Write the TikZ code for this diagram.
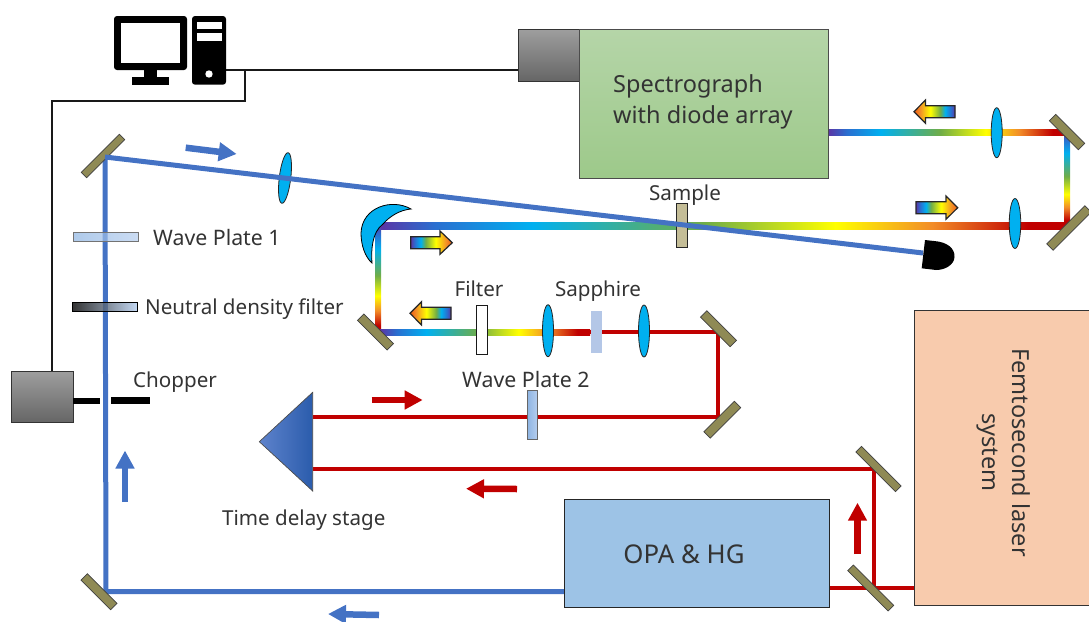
\documentclass[tikz,border=0pt]{standalone}
\usepackage{fontspec}
\setmainfont{Noto Sans}
\usetikzlibrary{arrows.meta,shapes.geometric}
\definecolor{rbA}{HTML}{5B35A5}
\definecolor{rbB}{HTML}{2A6FD0}
\definecolor{rbC}{HTML}{00B0F0}
\definecolor{rbD}{HTML}{70AD47}
\definecolor{rbE}{HTML}{FFFF00}
\definecolor{rbF}{HTML}{F28C28}
\definecolor{rbG}{HTML}{C00000}
\definecolor{rbH}{HTML}{EE5A10}
\definecolor{beamblue}{HTML}{4472C4}
\definecolor{beamred}{HTML}{C00000}
\definecolor{mirrorc}{HTML}{8F8A55}
\definecolor{lensc}{HTML}{00B0F0}
\definecolor{inkc}{HTML}{333333}
\definecolor{specA}{HTML}{B5D5A8}
\definecolor{specB}{HTML}{9DC98A}
\definecolor{opac}{HTML}{9DC3E6}
\definecolor{laserc}{HTML}{F8CBAD}
\definecolor{samplec}{HTML}{C4BD97}
\definecolor{sapphc}{HTML}{B4C7E7}
\definecolor{plateA}{HTML}{8DB4E2}
\definecolor{plateB}{HTML}{B4CDEE}
\definecolor{prismA}{HTML}{5F83CC}
\definecolor{prismB}{HTML}{2A5CAC}
\pgfdeclarehorizontalshading{rainbow}{100bp}{
 color(0bp)=(rbA); color(25bp)=(rbA); color(29bp)=(rbB); color(36bp)=(rbC);
 color(48.5bp)=(rbD); color(58bp)=(rbE); color(65bp)=(rbF); color(72bp)=(rbG);
 color(75bp)=(rbG); color(100bp)=(rbG)}
\pgfdeclarehorizontalshading{rbtip}{100bp}{
 color(0bp)=(rbA); color(25bp)=(rbA); color(30bp)=(rbB); color(37bp)=(rbC); color(43bp)=(rbD);
 color(55bp)=(rbE); color(68bp)=(rbF); color(75bp)=(rbH); color(100bp)=(rbH)}
\tikzset{
 lbl/.style={font=\fontsize{20.6}{24}\selectfont, text=inkc, inner sep=0pt},
 lblw/.style={font=\fontsize{21.3}{24}\selectfont, text=inkc, inner sep=0pt},
 bigl/.style={font=\fontsize{23.5}{31}\selectfont, text=inkc, inner sep=0pt, align=left},
 mirror/.style={draw=black!75, line width=.7pt, fill=mirrorc, minimum height=9pt, inner sep=0pt, rectangle},
 lens/.style={ellipse, draw=black!85, line width=.8pt, fill=lensc, inner sep=0pt},
 bluebeam/.style={draw=beamblue, line width=5pt},
 redbeam/.style={draw=beamred, line width=4.5pt},
 rbh/.style={shading=rainbow},
 rbv/.style={shading=rainbow, shading angle=-90},
 rbright/.style={draw=black!85, line width=1.2pt, shading=rbtip},
 rbleft/.style={draw=black!85, line width=1.2pt, shading=rbtip, shading angle=180},
 bluearrow/.style={draw=beamblue, line width=6.5pt, -{Triangle[length=18pt,width=18pt]}},
 redarrow/.style={draw=beamred, line width=6.5pt, -{Triangle[length=18pt,width=18pt]}},
 wire/.style={draw=black!90, line width=2pt},
 graybox/.style={draw=black!80, line width=.8pt, top color=black!38, bottom color=black!60, inner sep=0pt},
 plate/.style={draw=black!60, line width=.8pt, inner sep=0pt},
 barc/.style={fill=black, draw=none, inner sep=0pt},
}
\begin{document}
\begin{tikzpicture}[x=1pt,y=-1pt]
\useasboundingbox (0,0) rectangle (1089,621);
% beam corners
\coordinate (bM1) at (105,157);
\coordinate (bDet) at (923,253);
\coordinate (bM10) at (106,591.5);
\coordinate (bOPAw) at (565,591.5);
\coordinate (bSpec) at (828,132.5);
\coordinate (bTR) at (1067,132.5);
\coordinate (bBR) at (1067,226);
\coordinate (bPar) at (380,225.5);
\coordinate (bParv) at (378,225.5);
\coordinate (bLow) at (378,332);
\coordinate (bLowh) at (380,332);
\coordinate (bRedStart) at (590,332);
\coordinate (bM6) at (718,332);
\coordinate (bM7) at (718,417);
\coordinate (bPrU) at (313,417);
\coordinate (bPrL) at (313,469);
\coordinate (bM8) at (874,469);
\coordinate (bM9) at (874,588);
\coordinate (bOPAe) at (830,588);
\coordinate (bLas) at (914,588);
% wires
\coordinate (wA) at (226,70);
\coordinate (wB) at (245,70);
\coordinate (wC) at (245,101);
\coordinate (wD) at (52,101);
\coordinate (wE) at (52,371);
\coordinate (wF) at (519,70);
\draw[wire] (wA) -- (wF);
\draw[wire] (wB) -- (wC) -- (wD) -- (wE);
% rainbow beams
\shade[rbh] ([yshift=3pt]bSpec) rectangle ([yshift=-3pt]bTR);
\shade[rbh] ([yshift=3pt]bPar) rectangle ([yshift=-3pt,xshift=3pt]bBR);
\shade[rbv] ([xshift=-3pt]bTR) rectangle ([xshift=3pt]bBR);
\shade[rbv] ([xshift=-3pt]bParv) rectangle ([xshift=3pt]bLow);
\shade[rbh] ([yshift=3pt]bLowh) rectangle ([yshift=-3pt]bRedStart);
% red beams
\draw[redbeam] (bRedStart) -- (bM6) -- (bM7) -- (bPrU);
\draw[redbeam] (bPrL) -- (bM8) -- (bM9);
\draw[redbeam] (bOPAe) -- (bLas);
% blue beam, lower part
\draw[bluebeam, line join=miter] (bOPAw) -- (bM10) -- (bM1);
% boxes
\node[graybox, minimum width=62pt, minimum height=52pt] (cam) at (549,55) {};
\node[draw=black!70, line width=.8pt, top color=specA, bottom color=specB, minimum width=249pt, minimum height=149pt, inner sep=0pt] (spec) at (703.5,103.5) {};
\node[draw=black!85, line width=1pt, fill=opac, minimum width=265pt, minimum height=108pt, inner sep=0pt] (opa) at (697,553) {};
\node[draw=black!80, line width=1pt, fill=laserc, minimum width=185pt, minimum height=295pt, inner sep=0pt] (laser) at (1006.5,458) {};
\node[graybox, minimum width=62pt, minimum height=51pt] (chop) at (42,396.5) {};
\node[barc, minimum width=27pt, minimum height=6.5pt] (barL) at (86.5,401) {};
\node[barc, minimum width=39.5pt, minimum height=6.5pt] (barR) at (130.5,400.7) {};
% optics on the blue arm
\node[plate, draw=black!55, left color=plateA, right color=plateB, fill opacity=.7, minimum width=65pt, minimum height=9pt] (wp1) at (105.5,237.2) {};
\node[plate, draw=black, left color=black, right color=plateB, fill opacity=.8, minimum width=65pt, minimum height=8.5pt] (nd) at (104.5,307) {};
% mirrors
\node[mirror, minimum height=7.5pt, minimum width=54pt, rotate=45] (m1) at (103,156) {};
\node[mirror, minimum width=41pt, rotate=-45] (m2) at (1067,132) {};
\node[mirror, minimum width=54pt, rotate=45] (m3) at (1069,228) {};
\node[mirror, minimum width=42pt, rotate=-45] (m5) at (375.5,332) {};
\node[mirror, minimum width=42pt, rotate=-45] (m6) at (718.5,328.7) {};
\node[mirror, minimum width=43pt, rotate=45] (m7) at (722.3,419.7) {};
\node[mirror, minimum height=8pt, minimum width=56pt, rotate=-45] (m8) at (878.5,469) {};
\node[mirror, minimum height=8pt, minimum width=57pt, rotate=-45] (m9) at (870.7,588) {};
\node[mirror, minimum width=42pt, rotate=-45] (m10) at (99,591.7) {};
% parabolic mirror
\path[draw=black, line width=.8pt, fill=lensc] (411,209) .. controls (392,198) and (362,207) .. (361,233)
  .. controls (361,245) and (365,257) .. (372,263) .. controls (371,250) and (372,232) .. (383,224)
  .. controls (390,216) and (400,210) .. (411,209) -- cycle;
% lenses
\node[lens, minimum width=11.5pt, minimum height=51pt, rotate=-7] (l1) at (285,178) {};
\node[lens, minimum width=11pt, minimum height=50pt] (l2) at (996.7,132.7) {};
\node[lens, minimum width=11.5pt, minimum height=50pt] (l3) at (1015,223.5) {};
\node[lens, minimum width=11pt, minimum height=52pt] (l4) at (548,330.7) {};
\node[lens, minimum width=11pt, minimum height=52pt] (l5) at (644,331) {};
% plates
\node[fill=sapphc, minimum width=11pt, minimum height=42pt, inner sep=0pt] (sapph) at (596.5,332) {};
\node[draw=black!90, line width=.8pt, fill=white, minimum width=11pt, minimum height=49pt, inner sep=0pt] (filt) at (482.2,330.3) {};
\node[draw=black!85, line width=.8pt, fill=samplec, minimum width=11pt, minimum height=44pt, inner sep=0pt] (samp) at (682.2,225) {};
\node[plate, left color=plateA, right color=plateB, minimum width=10pt, minimum height=49pt] (wp2) at (532,415.3) {};
% blue beam, upper part and detector
\draw[bluebeam] (bM1) -- (bDet);
\path[fill=black] (925,240) -- (934,241) .. controls (948,242) and (955,249) .. (954.5,257)
  .. controls (954,265) and (945,270) .. (936,270) -- (921.7,268.3) -- cycle;
% prism
\path[draw=black!70, line width=.7pt, left color=prismA, right color=prismB] (259.3,441.7) -- (312.7,392.3) -- (312.7,491) -- cycle;
% computer
\path[fill=black, rounded corners=3pt] (114,16) rectangle (187,70);
\path[fill=white] (121,23.3) rectangle (180.3,62.7);
\path[fill=black] (144,70) rectangle (157,77);
\path[fill=black] (132,77) rectangle (169,84.7);
\path[fill=black, rounded corners=3pt] (192,16) rectangle (226,84.7);
\path[fill=white] (197,21.7) rectangle (221.7,29.3);
\path[fill=white] (197,33.3) rectangle (221.7,40.7);
\path[fill=white] (209,74) circle (3.7);
% direction arrows
\coordinate (aA1) at (185.7,147.7); \coordinate (aA2) at (236.7,154);
\coordinate (aB1) at (125,502); \coordinate (aB2) at (125,450.5);
\coordinate (aC1) at (379,615); \coordinate (aC2) at (328,614);
\coordinate (aD1) at (371.7,400); \coordinate (aD2) at (422.7,400);
\coordinate (aE1) at (517,489); \coordinate (aE2) at (466,488.7);
\coordinate (aF1) at (857.5,554); \coordinate (aF2) at (857.5,502.7);
\draw[bluearrow] (aA1) -- (aA2);
\draw[bluearrow] (aB1) -- (aB2);
\draw[bluearrow] (aC1) -- (aC2);
\draw[redarrow] (aD1) -- (aD2);
\draw[redarrow] (aE1) -- (aE2);
\draw[redarrow] (aF1) -- (aF2);
% rainbow arrows
\path[rbright] (410.7,236.7) -- (440,236.7) -- (440,231) -- (452.3,242.7) -- (440,254.3) -- (440,248.7) -- (410.7,248.7) -- cycle;
\path[rbleft] (451,307.3) -- (421.5,307.3) -- (421.5,301.7) -- (410,313.3) -- (421.5,325) -- (421.5,319.3) -- (451,319.3) -- cycle;
\path[rbleft] (955,105.7) -- (925.5,105.7) -- (925.5,100) -- (914,111.7) -- (925.5,123.3) -- (925.5,117.7) -- (955,117.7) -- cycle;
\path[rbright] (916,201.7) -- (946,201.7) -- (946,196) -- (957.7,207.7) -- (946,219.3) -- (946,213.7) -- (916,213.7) -- cycle;
% labels
\node[bigl, anchor=west] (tSpec) at (613,102) {Spectrograph\\with diode array};
\node[bigl, anchor=center, font=\fontsize{25.8}{31}\selectfont] (tOpa) at (684,554) {OPA \& HG};
\node[lbl, rotate=-90, align=center, font=\fontsize{23.5}{30}\selectfont] (tLaser) at (1004,452.5) {Femtosecond laser\\system};
\node[lbl, anchor=base] (tSample) at (685,200) {Sample};
\node[lblw, anchor=base west] (tWp1) at (153,245) {Wave Plate 1};
\node[lbl, anchor=base west] (tNd) at (145,314) {Neutral density filter};
\node[lbl, anchor=base west] (tChop) at (133,387) {Chopper};
\node[lbl, anchor=base] (tFilt) at (479,296) {Filter};
\node[lbl, anchor=base] (tSapph) at (598,296) {Sapphire};
\node[lblw, anchor=base west] (tWp2) at (462,387) {Wave Plate 2};
\node[lbl, anchor=base west] (tTds) at (222,525) {Time delay stage};
\end{tikzpicture}
\end{document}
